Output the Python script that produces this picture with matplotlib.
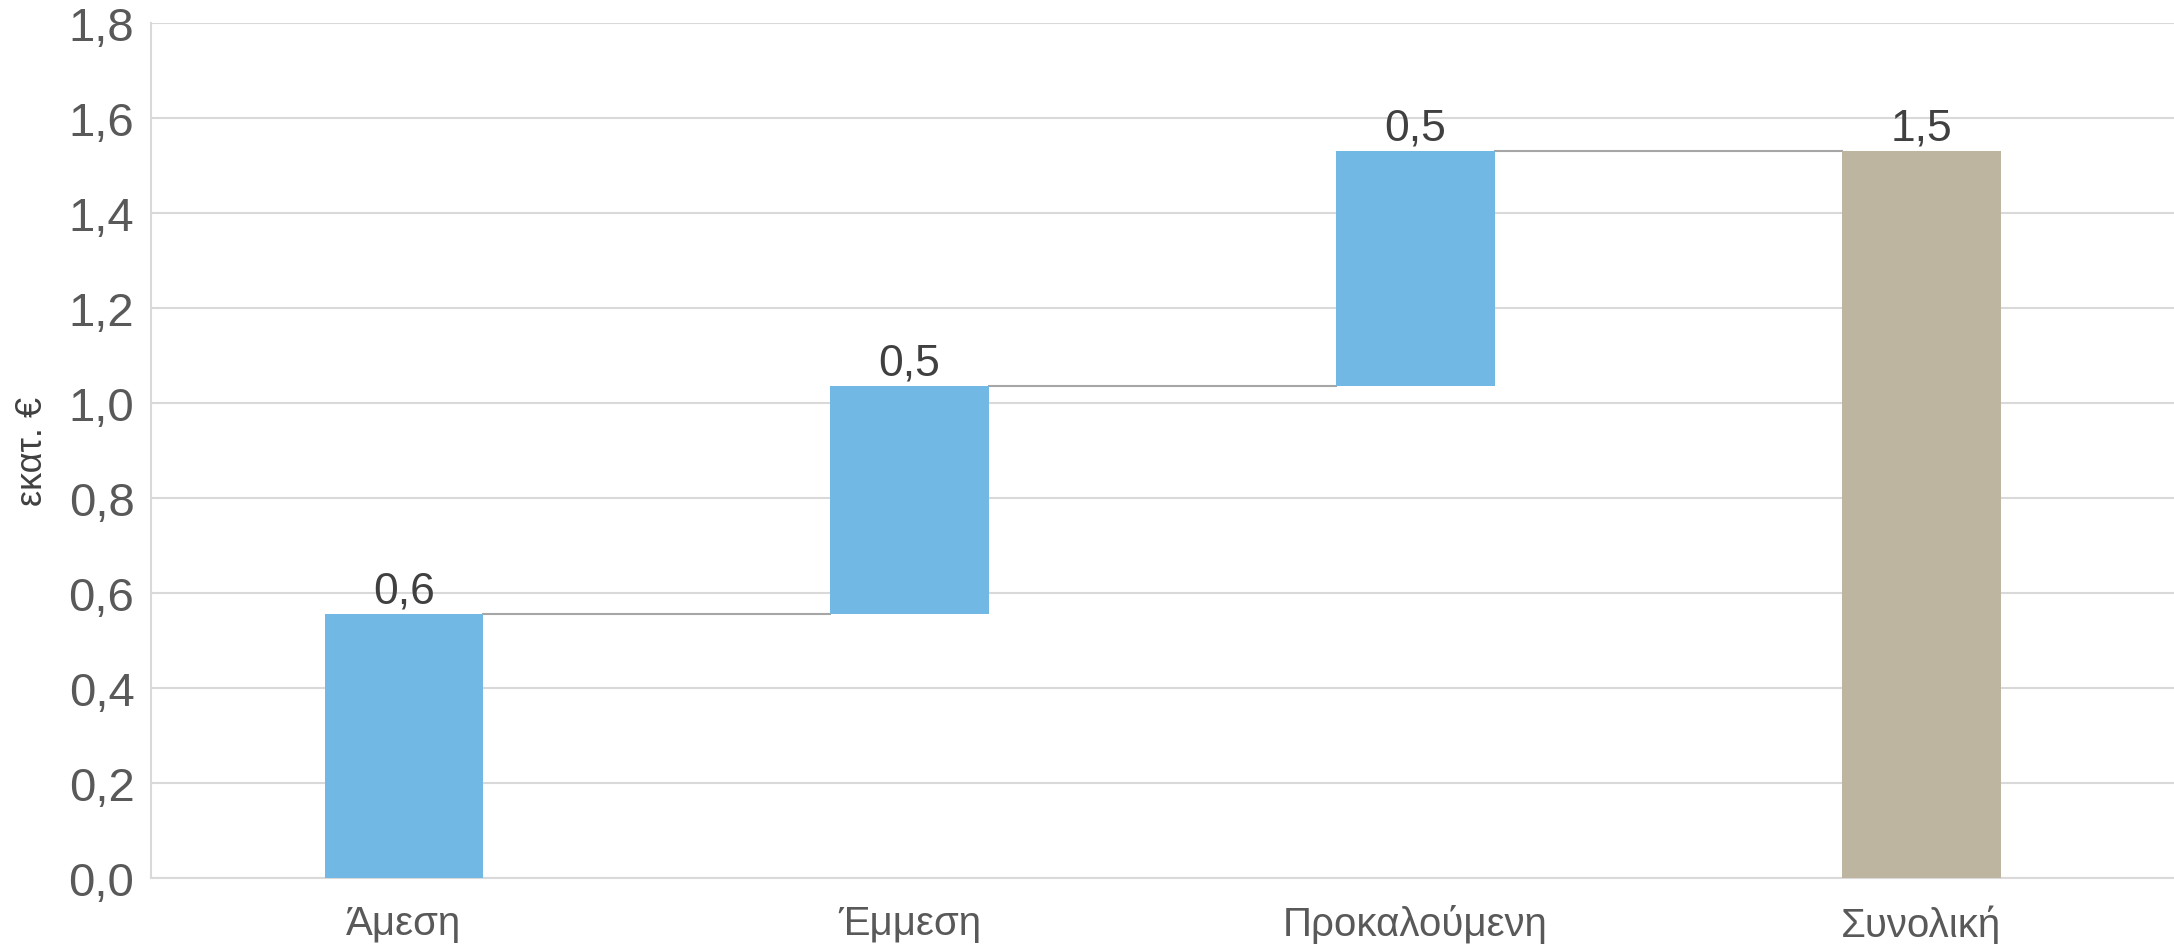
import matplotlib
matplotlib.use("Agg")
import matplotlib.pyplot as plt

plt.rcParams['font.family'] = ['Liberation Sans', 'DejaVu Sans']

categories = ['Άμεση', 'Έμμεση', 'Προκαλούμενη', 'Συνολική']
steps = [0.555, 0.48, 0.495]
total = 1.53
labels = ['0,6', '0,5', '0,5', '1,5']
yticks = [0.0, 0.2, 0.4, 0.6, 0.8, 1.0, 1.2, 1.4, 1.6, 1.8]
ytick_labels = ['0,0', '0,2', '0,4', '0,6', '0,8', '1,0', '1,2', '1,4', '1,6', '1,8']

blue = '#71b8e4'
tan = '#bdb59f'
width = 0.314

fig = plt.figure(figsize=(21.74, 9.45), dpi=100)
ax = fig.add_axes([0.0695, 0.0698, 0.9305, 0.905])

bottoms = []
acc = 0.0
for v in steps:
    bottoms.append(acc)
    acc += v
x = list(range(len(categories)))

ax.bar(x[:3], steps, bottom=bottoms, width=width, color=blue, zorder=3)
ax.bar(x[3], total, width=width, color=tan, zorder=3)

# connector lines between bars
tops = [b + v for b, v in zip(bottoms, steps)]
for i, t in enumerate(tops):
    ax.plot([x[i] + width / 2, x[i + 1] - width / 2], [t, t], color='#a6a6a6', lw=1.5, zorder=2)

# data labels
all_tops = tops + [total]
for i, (t, lab) in enumerate(zip(all_tops, labels)):
    ax.text(x[i], t + 0.006, lab, ha='center', va='bottom', fontsize=32, color='#404040')

ax.set_xlim(-0.5, 3.5)
ax.set_ylim(0, 1.8)
ax.set_yticks(yticks)
ax.set_yticklabels(ytick_labels)
ax.set_xticks(x)
ax.set_xticklabels(categories)
ax.tick_params(axis='y', length=0, labelsize=34, labelcolor='#595959', pad=12)
ax.tick_params(axis='x', length=0, labelsize=29, labelcolor='#595959', pad=19)
ax.grid(axis='y', color='#d9d9d9', lw=1.5, zorder=0)
ax.set_axisbelow(True)
for s in ['top', 'right']:
    ax.spines[s].set_visible(False)
for s in ['left', 'bottom']:
    ax.spines[s].set_color('#d9d9d9')
    ax.spines[s].set_linewidth(1.5)

ax.set_ylabel('εκατ. €', fontsize=26, color='#404040')
ax.yaxis.set_label_coords(-0.05, 0.5)

fig.savefig('out.png', dpi=100)
